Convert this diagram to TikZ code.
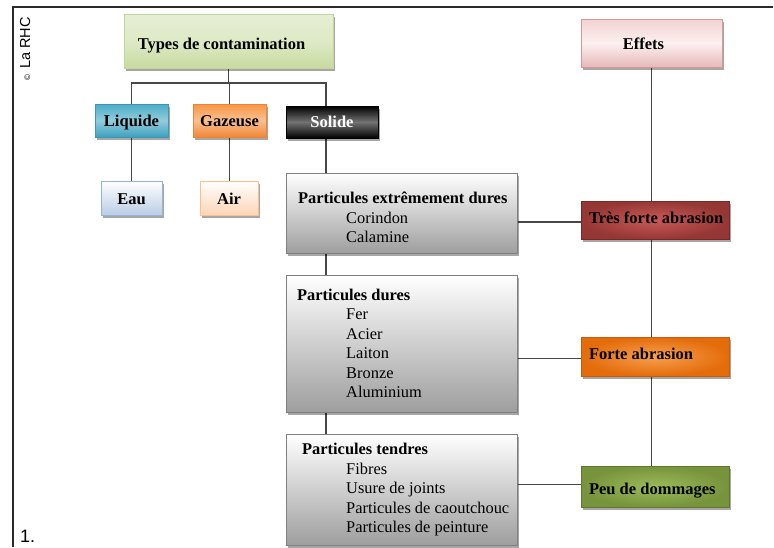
\documentclass[tikz,border=0pt]{standalone}
\usepackage{fontspec}
\setmainfont{Liberation Serif}
\newfontfamily\arialf{Liberation Sans}
\usetikzlibrary{shadows,backgrounds}
\definecolor{linecol}{HTML}{474747}
\definecolor{framecol}{HTML}{2A2A2A}
\begin{document}
\begin{tikzpicture}[x=1pt,y=-1pt,
  box/.style={draw, line width=0.8pt, inner sep=0pt, text height=11pt, text depth=0pt,
    font=\bfseries\fontsize{16.5}{19.5}\selectfont,
    drop shadow={shadow xshift=2pt, shadow yshift=-2.5pt, opacity=0.35, fill=black}},
  effbox/.style={box, minimum width=148pt, align=left, inner xsep=8pt},
  partbox/.style={box, minimum width=231pt, top color=white, bottom color=black!38, draw=black!50},
  itemtxt/.style={anchor=base west, inner sep=0pt, align=left, font=\fontsize{16.4}{19.5}\selectfont},
  link/.style={draw=linecol, line width=1.3pt}]
\useasboundingbox (0,0) rectangle (774,547);
\draw[framecol, line width=1.3pt] (13,547) -- (13,7) -- (773,7);
\node[rotate=90, anchor=base west, inner sep=0pt, font=\arialf\fontsize{14.5}{14.5}\selectfont] (cr) at (30,81) {{\fontsize{8}{8}\selectfont ©}\hspace{6pt}La RHC};
\node[anchor=base west, inner sep=0pt, font=\arialf\fontsize{18}{18}\selectfont] (num) at (20,542) {1.};

% top tree
\node[box, text height=16pt, minimum width=209pt, minimum height=54pt, draw={rgb,255:red,195;green,214;blue,155}, top color={rgb,255:red,230;green,238;blue,213}, bottom color={rgb,255:red,200;green,218;blue,160}, middle color={rgb,255:red,222;green,234;blue,198}] (types) at (228.5,41) {Types de contamination\hspace*{14pt}};
\node[box, minimum width=73pt, minimum height=33pt, draw={rgb,255:red,60;green,150;blue,180}, top color={rgb,255:red,75;green,172;blue,198}, bottom color={rgb,255:red,60;green,160;blue,190}, middle color={rgb,255:red,147;green,205;blue,221}] (liq) at (131.5,120.5) {Liquide};
\node[box, minimum width=73pt, minimum height=33pt, draw={rgb,255:red,240;green,130;blue,50}, top color={rgb,255:red,247;green,150;blue,70}, bottom color={rgb,255:red,240;green,135;blue,55}, middle color={rgb,255:red,250;green,192;blue,143}] (gaz) at (229.5,120.5) {Gazeuse};
\node[box, text height=10pt, minimum width=92pt, minimum height=32pt, draw=black, top color=black, bottom color=black, middle color=black!55, text=white] (sol) at (332,122) {Solide};
\node[box, text height=12pt, minimum width=61pt, minimum height=34pt, draw={rgb,255:red,149;green,179;blue,215}, top color=white, bottom color={rgb,255:red,185;green,205;blue,229}] (eau) at (131.5,198) {Eau};
\node[box, text height=12pt, minimum width=58pt, minimum height=34pt, draw={rgb,255:red,250;green,192;blue,144}, top color=white, bottom color={rgb,255:red,251;green,213;blue,181}] (air) at (229,198) {Air};

% particle boxes
\node[partbox, minimum height=80pt] (p1) at (401.5,213) {};
\node[partbox, minimum height=137pt] (p2) at (401.5,343.5) {};
\node[partbox, minimum height=111pt] (p3) at (401.5,489.5) {};
\node[itemtxt] (p1h) at (298,203.5) {\textbf{Particules extrêmement dures}};
\node[itemtxt] (p1i) at (346,242.5) {Corindon\\Calamine};
\node[itemtxt] (p2h) at (297,300) {\textbf{Particules dures}};
\node[itemtxt] (p2i) at (346,397.5) {Fer\\Acier\\Laiton\\Bronze\\Aluminium};
\node[itemtxt] (p3h) at (302,454.5) {\textbf{Particules tendres}};
\node[itemtxt] (p3i) at (346,532.5) {Fibres\\Usure de joints\\Particules de caoutchouc\\Particules de peinture};

% effects
\node[box, text height=12pt, minimum width=141pt, minimum height=48pt, draw={rgb,255:red,217;green,150;blue,148}, top color={rgb,255:red,242;green,210;blue,210}, bottom color={rgb,255:red,230;green,185;blue,184}, middle color={rgb,255:red,252;green,240;blue,240}] (eff) at (651.5,43) {Effets\hspace*{16pt}};
\node[effbox, text height=6pt, minimum height=38pt, draw={rgb,255:red,120;green,40;blue,40}, inner color={rgb,255:red,200;green,90;blue,88}, outer color={rgb,255:red,149;green,55;blue,53}] (tfa) at (655,220) {\makebox[132pt][l]{Très forte abrasion}};
\node[effbox, text height=6pt, minimum height=39pt, draw={rgb,255:red,200;green,90;blue,10}, inner color={rgb,255:red,247;green,160;blue,80}, outer color={rgb,255:red,228;green,108;blue,10}] (fa) at (655,356.5) {\makebox[132pt][l]{Forte abrasion}};
\node[effbox, text height=15pt, minimum height=41pt, draw={rgb,255:red,95;green,120;blue,45}, inner color={rgb,255:red,155;green,187;blue,89}, outer color={rgb,255:red,119;green,147;blue,60}] (pdd) at (655,486.5) {\makebox[132pt][l]{Peu de dommages}};

\begin{scope}[on background layer]
\coordinate (bus) at (0,83);
\draw[link] (types.south) -- (types.south |- bus);
\draw[link] (liq.north) -- (liq.north |- bus) -- ([xshift=-6pt]sol.north |- bus) -- ([xshift=-6pt]sol.north);
\draw[link] (gaz.north) -- (gaz.north |- bus);
\draw[link] (liq.south) -- (eau.north);
\draw[link] (gaz.south) -- (gaz.south |- air.north);
\draw[link] ([xshift=-6pt]sol.south) -- ([xshift=-6pt]sol.south |- p1.north);
\draw[link] ([xshift=-6pt]sol.south |- p1.south) -- ([xshift=-6pt]sol.south |- p2.north);
\draw[link] ([xshift=-6pt]sol.south |- p2.south) -- ([xshift=-6pt]sol.south |- p3.north);
\draw[link] (eff.south) -- (eff.south |- tfa.north);
\draw[link] (eff.south |- tfa.south) -- (eff.south |- fa.north);
\draw[link] (eff.south |- fa.south) -- (eff.south |- pdd.north);
\draw[link] ([yshift=-2pt]tfa.west -| p1.east) -- ([yshift=-2pt]tfa.west);
\draw[link] ([yshift=-2pt]fa.west -| p2.east) -- ([yshift=-2pt]fa.west);
\draw[link] ([yshift=2pt]pdd.west -| p3.east) -- ([yshift=2pt]pdd.west);
\end{scope}
\end{tikzpicture}
\end{document}
